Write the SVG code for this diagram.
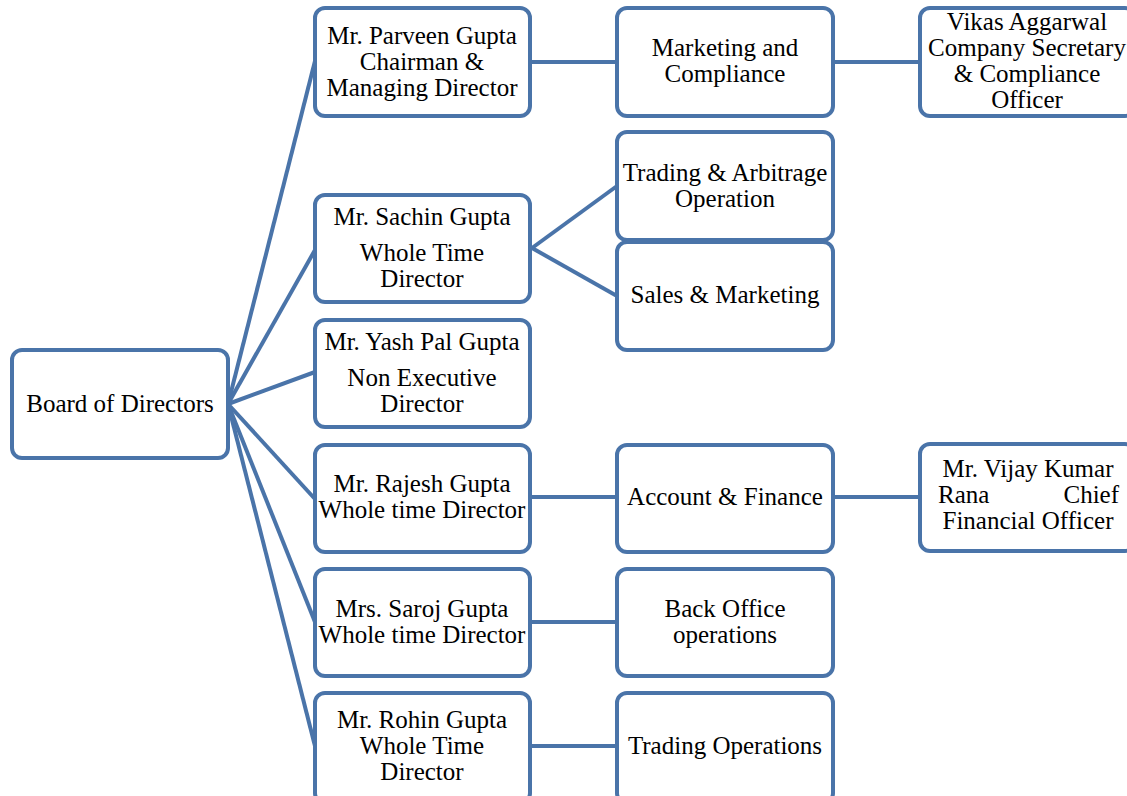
<svg xmlns="http://www.w3.org/2000/svg" width="1127" height="796" viewBox="0 0 1127 796">
<style>
.box{fill:#fff;stroke:#4a74a9;stroke-width:4}
.ln{stroke:#4a74a9;stroke-width:4;fill:none}
text{font-family:"Liberation Serif","Times New Roman",serif;font-size:25px;fill:#000;text-anchor:middle}
</style>
<rect width="1127" height="796" fill="#fff"/>
<g id="connectors">
<line class="ln" x1="228" y1="404" x2="315" y2="61"/>
<line class="ln" x1="228" y1="404" x2="315" y2="250"/>
<line class="ln" x1="228" y1="404" x2="315" y2="372"/>
<line class="ln" x1="228" y1="404" x2="315" y2="499"/>
<line class="ln" x1="228" y1="404" x2="315" y2="622"/>
<line class="ln" x1="228" y1="404" x2="315" y2="746"/>
<line class="ln" x1="530" y1="62" x2="617" y2="62"/>
<line class="ln" x1="532" y1="248" x2="617" y2="186"/>
<line class="ln" x1="532" y1="248" x2="617" y2="296"/>
<line class="ln" x1="530" y1="497" x2="617" y2="497"/>
<line class="ln" x1="530" y1="622" x2="617" y2="622"/>
<line class="ln" x1="530" y1="746" x2="617" y2="746"/>
<line class="ln" x1="833" y1="62" x2="920" y2="62"/>
<line class="ln" x1="833" y1="497" x2="920" y2="497"/>
</g>
<g id="board"><rect class="box" x="12" y="350" width="216" height="108" rx="10"/><text x="120" y="412">Board of Directors</text></g>
<g id="parveen"><rect class="box" x="315" y="8" width="215" height="108" rx="10"/><text x="422" y="44">Mr. Parveen Gupta</text><text x="422" y="70">Chairman &amp;</text><text x="422" y="96">Managing Director</text></g>
<g id="sachin"><rect class="box" x="315" y="195" width="215" height="107" rx="10"/><text x="422" y="225">Mr. Sachin Gupta</text><text x="422" y="261">Whole Time</text><text x="422" y="287">Director</text></g>
<g id="yash"><rect class="box" x="315" y="320" width="215" height="107" rx="10"/><text x="422" y="350">Mr. Yash Pal Gupta</text><text x="422" y="386">Non Executive</text><text x="422" y="412">Director</text></g>
<g id="rajesh"><rect class="box" x="315" y="445" width="215" height="107" rx="10"/><text x="422" y="492">Mr. Rajesh Gupta</text><text x="422" y="518">Whole time Director</text></g>
<g id="saroj"><rect class="box" x="315" y="569" width="215" height="107" rx="10"/><text x="422" y="617">Mrs. Saroj Gupta</text><text x="422" y="643">Whole time Director</text></g>
<g id="rohin"><rect class="box" x="315" y="693" width="215" height="110" rx="10"/><text x="422" y="728">Mr. Rohin Gupta</text><text x="422" y="754">Whole Time</text><text x="422" y="780">Director</text></g>
<g id="marketing"><rect class="box" x="617" y="8" width="216" height="108" rx="10"/><text x="725" y="56">Marketing and</text><text x="725" y="82">Compliance</text></g>
<g id="trading-arbitrage"><rect class="box" x="617" y="132" width="216" height="108" rx="10"/><text x="725" y="181">Trading &amp; Arbitrage</text><text x="725" y="207">Operation</text></g>
<g id="sales"><rect class="box" x="617" y="242" width="216" height="108" rx="10"/><text x="725" y="303">Sales &amp; Marketing</text></g>
<g id="account"><rect class="box" x="617" y="445" width="216" height="107" rx="10"/><text x="725" y="505">Account &amp; Finance</text></g>
<g id="backoffice"><rect class="box" x="617" y="569" width="216" height="107" rx="10"/><text x="725" y="617">Back Office</text><text x="725" y="643">operations</text></g>
<g id="tradingops"><rect class="box" x="617" y="693" width="216" height="110" rx="10"/><text x="725" y="754">Trading Operations</text></g>
<g id="vikas"><rect class="box" x="920" y="8" width="215" height="108" rx="10"/><text x="1027" y="30">Vikas Aggarwal</text><text x="1027" y="56">Company Secretary</text><text x="1027" y="82">&amp; Compliance</text><text x="1027" y="108">Officer</text></g>
<g id="vijay"><rect class="box" x="920" y="444" width="215" height="107" rx="10"/><text x="1028" y="477">Mr. Vijay Kumar</text><text y="503"><tspan x="938" style="text-anchor:start">Rana</tspan><tspan x="1119" style="text-anchor:end">Chief</tspan></text><text x="1028" y="529">Financial Officer</text></g>
</svg>
